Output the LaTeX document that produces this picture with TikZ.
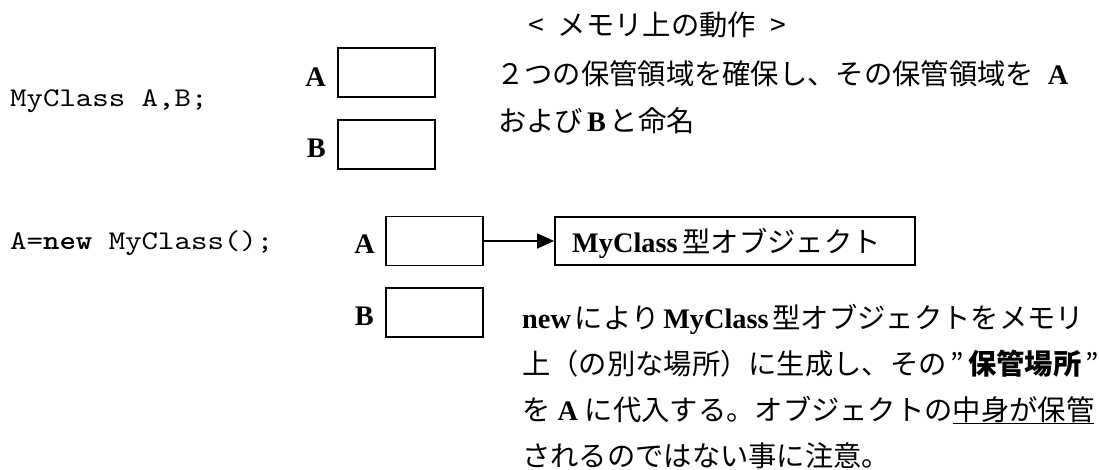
\documentclass[tikz,border=0pt]{standalone}
\usepackage{fontspec}
\setmainfont{Liberation Serif}
\newfontfamily\jp{Noto Sans CJK JP}
\newfontfamily\code{lmmono10-regular.otf}[FakeStretch=1.16, BoldFont=lmmonolt10-bold.otf]
\usetikzlibrary{arrows.meta}
\newcommand{\J}[1]{{\jp #1}}
\newcommand{\sz}{\fontsize{28.3}{34}\selectfont}
\newcommand{\csz}{\fontsize{27}{32}\selectfont}
\begin{document}
\begin{tikzpicture}[x=1pt,y=-1pt, font=\sz,
  cell/.style={draw, line width=1.8pt, minimum width=97pt, minimum height=49pt, inner sep=0pt},
  lbl/.style={anchor=base east, inner sep=0pt, font=\sz\bfseries},
  txt/.style={anchor=base west, inner sep=0pt},
  codetxt/.style={anchor=base west, inner sep=0pt, font=\csz\code}]
\useasboundingbox (0,0) rectangle (1099,470);

% code column
\node[codetxt] (c1) at (10,107) {MyClass A,B;};
\node[codetxt] (c2) at (10,250) {A=\textbf{new} MyClass();};

% first state
\node[cell] (a1) at (386.5,72.5) {};
\node[cell] (b1) at (386.5,144.5) {};
\node[lbl] (la1) at (326,87) {A};
\node[lbl] (lb1) at (326,158) {B};

% second state
\node[cell] (a2) at (434.5,241) {};
\node[cell] (b2) at (434.5,312.5) {};
\node[lbl] (la2) at (375,254) {A};
\node[lbl] (lb2) at (374,325) {B};
\node[cell, minimum width=360pt, minimum height=48pt] (obj) at (735,241) {};
\node[txt] (objt) at (572,252) {\textbf{MyClass}\hspace{5pt}\J{型オブジェクト}};
\draw[line width=1.6pt, -{Triangle[length=17pt,width=15pt]}] (a2.east) -- (obj.west);

% explanations
\node[txt] (t0) at (528,36) {\J{<\hspace{14pt}メモリ上の動作\hspace{14pt}>}};
\node[txt] (t1) at (496,85) {\J{２つの保管領域を確保し、その保管領域を}\hspace{14pt}\textbf{A}};
\node[txt] (t2) at (498,132) {\J{および}\hspace{4pt}\textbf{B}\hspace{4pt}\J{と命名}};

\node[txt] (m1) at (522,328) {\textbf{new}\hspace{4pt}\J{により}\hspace{4pt}\textbf{MyClass}\hspace{4pt}\J{型オブジェクトをメモリ}};
\node[txt] (m2) at (522,374) {\J{上（の別な場所）に生成し、その\hspace{4pt}”\hspace{4pt}\textbf{保管場所}\hspace{4pt}”}};
\node[txt] (m3) at (522,420) {\J{を}\hspace{7pt}\textbf{A}\hspace{7pt}\J{に代入する。オブジェクトの\underline{中身が保管}}};
\node[txt] (m4) at (522,466) {\J{されるのではない事に注意。}};
\end{tikzpicture}
\end{document}
